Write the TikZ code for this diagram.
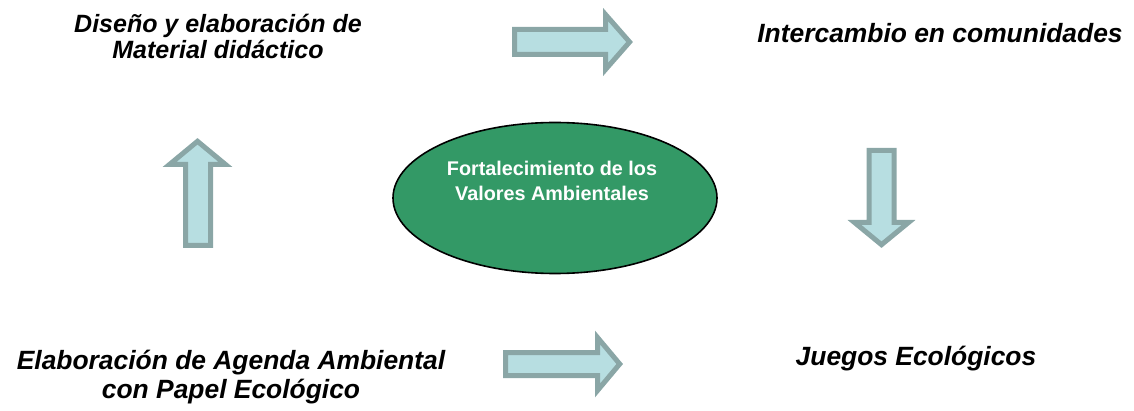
\documentclass[tikz,border=0pt]{standalone}
\usepackage{fontspec}
\setmainfont{Liberation Sans}
\definecolor{verde}{RGB}{51,153,102}
\definecolor{celeste}{RGB}{183,222,225}
\definecolor{borde}{RGB}{138,166,166}
\tikzset{
	texto/.style={font=\bfseries\itshape\fontsize{26.4}{28.5}\selectfont, align=center, inner sep=0pt},
	flecha/.style={draw=borde, fill=celeste, line width=5pt, line join=miter},
	circulo/.style={ellipse, draw=black, line width=1.6pt, fill=verde, minimum width=324pt, minimum height=151pt},
	textocentro/.style={font=\bfseries\fontsize{19.8}{25}\selectfont, text=white, align=center, inner sep=0pt}
}
\usetikzlibrary{shapes.geometric}
\begin{document}
\begin{tikzpicture}[x=1pt,y=-1pt]
	\useasboundingbox (0,0) rectangle (1134,411);
	% textos
	\node[texto, font=\bfseries\itshape\fontsize{25}{26}\selectfont] (diseno) at (218,36) {Diseño y elaboración de\\Material didáctico};
	\node[texto, anchor=base] (intercambio) at (940,43) {Intercambio en comunidades};
	\node[texto, anchor=base] (juegos) at (916,365) {Juegos Ecológicos};
	\node[texto] (agenda) at (231,377) {Elaboración de Agenda Ambiental\\con Papel Ecológico};
	% centro
	\node[circulo] (centro) at (555,198) {};
	\node[textocentro] (valores) at (552,181) {Fortalecimiento de los\\Valores Ambientales};
	% flechas
	\draw[flecha] (514.5,29.5) -- (605.5,29.5) -- (605.5,14.5) -- (629.6,42) -- (605.5,69.5) -- (605.5,54.5) -- (514.5,54.5) -- cycle;
	\draw[flecha] (869,150.5) -- (894,150.5) -- (894,222.5) -- (908.5,222.5) -- (881.5,244.7) -- (854.5,222.5) -- (869,222.5) -- cycle;
	\draw[flecha] (505.5,352.5) -- (597.5,352.5) -- (597.5,337.5) -- (619.7,364) -- (597.5,390.5) -- (597.5,375.5) -- (505.5,375.5) -- cycle;
	\draw[flecha] (185.5,245.5) -- (185.5,164.5) -- (169.5,164.5) -- (197.5,141.3) -- (225.5,164.5) -- (210.5,164.5) -- (210.5,245.5) -- cycle;
\end{tikzpicture}
\end{document}
